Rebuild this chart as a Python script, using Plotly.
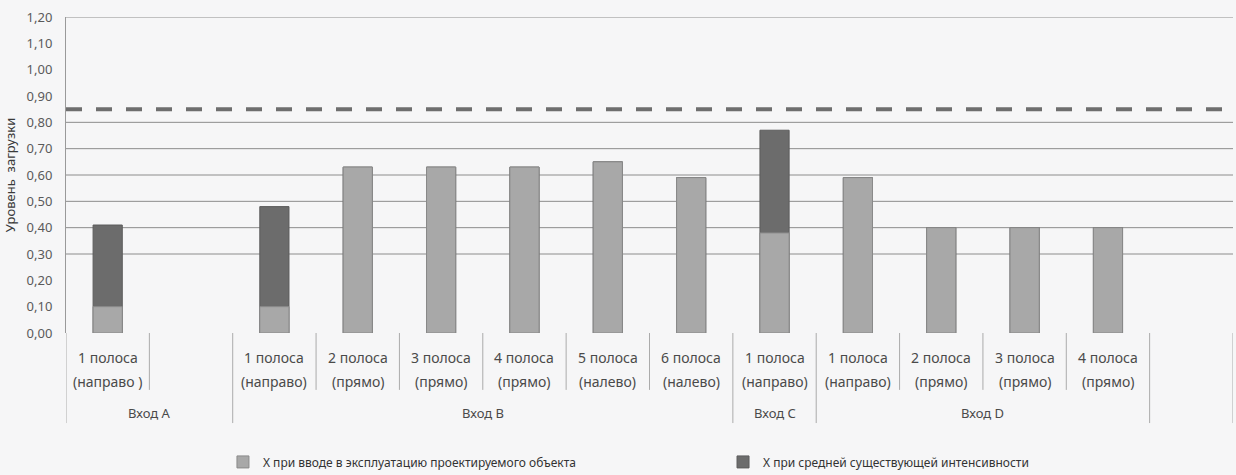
import plotly.graph_objects as go

# Lanes of each intersection approach (two-line labels) and the approach they belong to
lane_names = ["1 полоса", "", "1 полоса", "2 полоса", "3 полоса", "4 полоса", "5 полоса",
              "6 полоса", "1 полоса", "1 полоса", "2 полоса", "3 полоса", "4 полоса", ""]
lane_turns = ["(направо )", "", "(направо)", "(прямо)", "(прямо)", "(прямо)", "(налево)",
              "(налево)", "(направо)", "(направо)", "(прямо)", "(прямо)", "(прямо)", ""]
approaches = ["Вход А", "Вход А",
              "Вход В", "Вход В", "Вход В", "Вход В", "Вход В", "Вход В",
              "Вход С",
              "Вход D", "Вход D", "Вход D", "Вход D",
              ""]

# Degree of saturation X per lane
x_existing = [0.41, None, 0.48, 0.63, 0.63, 0.63, 0.65, 0.59, 0.77, 0.59, 0.40, 0.40, 0.40, None]
x_commissioned = [0.10, None, 0.10, 0.63, 0.63, 0.63, 0.65, 0.59, 0.38, 0.59, 0.40, 0.40, 0.40, None]

saturation_limit = 0.85
y_ticks = [0.0, 0.1, 0.2, 0.3, 0.4, 0.5, 0.6, 0.7, 0.8, 0.9, 1.0, 1.1, 1.2]
grid_levels = [0.3, 0.4, 0.5, 0.6, 0.7, 0.8, 1.2]

name_commissioned = "X при вводе в эксплуатацию проектируемого объекта"
name_existing = "X при средней существующей интенсивности"

FONT = "Noto Sans"
BG = "#f6f6f7"
n = len(lane_names)
pos = list(range(n))

fig = go.Figure()
# existing load is drawn first so the commissioned-state bar sits in front of it
fig.add_trace(go.Bar(
    x=pos, y=x_existing, name=name_existing, width=0.35, legend="legend2",
    marker=dict(color="#6c6c6c", line=dict(color="#5c5c5c", width=1)),
))
fig.add_trace(go.Bar(
    x=pos, y=x_commissioned, name=name_commissioned, width=0.35, legend="legend",
    marker=dict(color="#a8a8a8", line=dict(color="#8a8a8a", width=1)),
))

shapes = []
# horizontal grid
for g in grid_levels:
    shapes.append(dict(type="line", xref="paper", yref="y", x0=0, x1=1, y0=g, y1=g,
                       line=dict(color="#8c8c8c", width=1), layer="below"))
# saturation threshold
shapes.append(dict(type="line", xref="paper", yref="y", x0=0, x1=1.003,
                   y0=saturation_limit, y1=saturation_limit,
                   line=dict(color="#6e6e6e", width=4, dash="16px,14px")))

# category dividers below the axis: long between approaches, short between lanes
SHORT, LONG = -0.18, -0.285
bounds = [-0.5] + [i + 0.5 for i in range(n)]
for b in bounds:
    left = int(b - 0.5)
    right = int(b + 0.5)
    if left < 0 or right >= n or approaches[left] != approaches[right]:
        y1 = LONG
    else:
        y1 = SHORT
    shapes.append(dict(type="line", xref="x", yref="paper", x0=b, x1=b, y0=0, y1=y1,
                       line=dict(color="#ababab", width=1)))

annotations = []
for i in range(n):
    for txt, yy in ((lane_names[i], -0.079), (lane_turns[i], -0.155)):
        if txt:
            annotations.append(dict(x=i, y=yy, xref="x", yref="paper", text=txt,
                                    showarrow=False, xanchor="center", yanchor="middle",
                                    font=dict(family=FONT, size=14, color="#4a4a4a")))
# approach labels centred under their lanes
start = 0
for i in range(1, n + 1):
    if i == n or approaches[i] != approaches[start]:
        if approaches[start]:
            annotations.append(dict(x=(start + i - 1) / 2, y=-0.253, xref="x", yref="paper",
                                    text=approaches[start], showarrow=False,
                                    xanchor="center", yanchor="middle",
                                    font=dict(family=FONT, size=13, color="#4a4a4a")))
        start = i

legend_style = dict(orientation="h", y=-0.408, xanchor="left", yanchor="middle",
                    bgcolor="rgba(0,0,0,0)", itemwidth=30,
                    font=dict(family=FONT, size=12, color="#333333"))

fig.update_layout(
    width=1236, height=475,
    margin=dict(l=66, r=3, t=17, b=142, autoexpand=False),
    paper_bgcolor=BG, plot_bgcolor=BG,
    barmode="overlay",
    separators=", ",
    font=dict(family=FONT, color="#555555"),
    shapes=shapes,
    annotations=annotations,
    showlegend=True,
    legend=dict(x=0.1345, **legend_style),
    legend2=dict(x=0.563, **legend_style),
    xaxis=dict(range=[-0.5, n - 0.5], showticklabels=False, showgrid=False,
               zeroline=False, showline=False, ticks=""),
    yaxis=dict(range=[0, 1.2], tickvals=y_ticks, tickformat=".2f", showgrid=False,
               zeroline=False, showline=True, linecolor="#9a9a9a", linewidth=1,
               ticks="", ticklabelstandoff=10,
               tickfont=dict(family=FONT, size=13, color="#5a5a5a"),
               title=dict(text="Уровень  загрузки", standoff=8,
                          font=dict(family=FONT, size=13, color="#3a3a3a"))),
)

fig.write_html("out.html")
